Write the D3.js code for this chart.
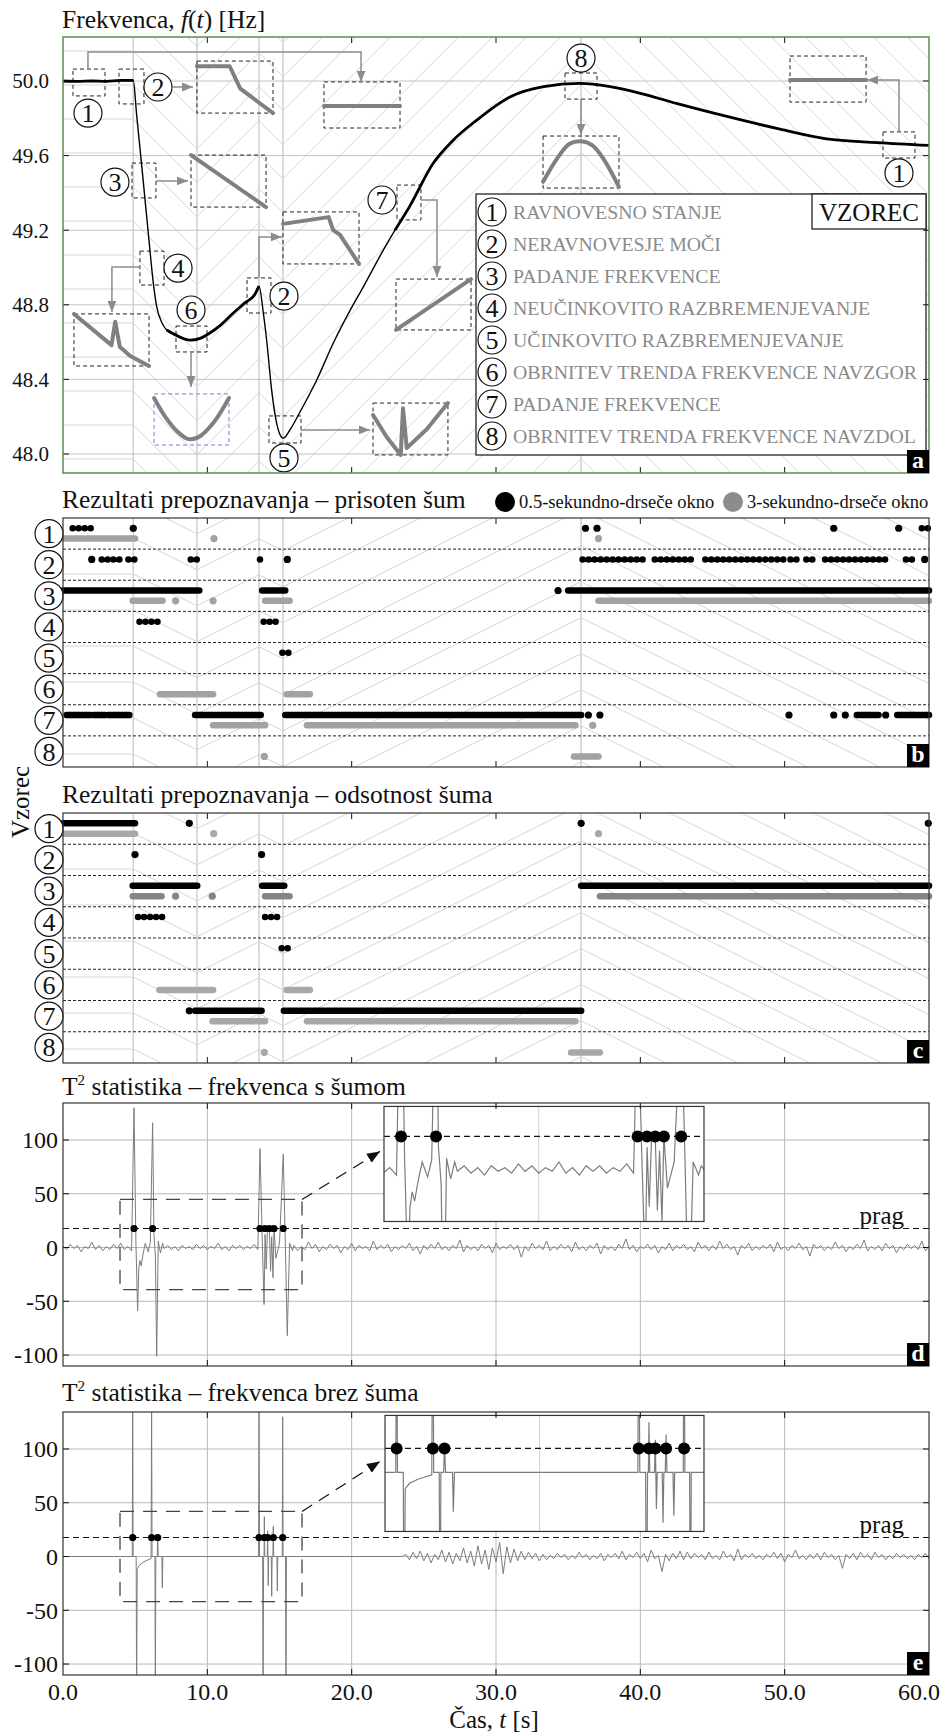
<!DOCTYPE html>
<html>
<head>
<meta charset="utf-8">
<script src="https://cdn.jsdelivr.net/npm/d3@7"></script>
<style>
  body { margin: 0; background: #fff; }
  svg text { font-family: "Liberation Serif", "Times New Roman", serif; }
</style>
</head>
<body>
<div id="chart"></div>
<script>
// ---------- data ----------
var tTicks = [0, 10, 20, 30, 40, 50, 60];
var fTicks = [48.0, 48.4, 48.8, 49.2, 49.6, 50.0];
var t2Ticks = [100, 50, 0, -50, -100];
var eventTimes = [4.87, 9.28, 13.58, 15.24, 35.89];
var threshold = 17.7;

var patternNames = ["RAVNOVESNO STANJE", "NERAVNOVESJE MOČI", "PADANJE FREKVENCE",
  "NEUČINKOVITO RAZBREMENJEVANJE", "UČINKOVITO RAZBREMENJEVANJE",
  "OBRNITEV TRENDA FREKVENCE NAVZGOR", "PADANJE FREKVENCE", "OBRNITEV TRENDA FREKVENCE NAVZDOL"];

// frequency f(t)
var freqT = [0, 1, 2, 3, 4, 4.87, 5.1, 5.5, 5.89, 6.26, 6.49, 6.88, 7.18, 7.76, 8.8, 9.5, 10.2, 10.9, 11.8, 12.6, 13.3, 13.58,
  13.88, 14.11, 14.46, 14.8, 15.15, 15.27, 15.73, 16.42, 17.58, 18.73, 19.89, 20.8, 22.2, 23.0, 24.0, 25.66, 27.0, 28.66,
  31.0, 33.3, 35.8, 37.9, 40.0, 42.5, 46.0, 49.45, 52.9, 56.4, 60];
var freqF = [50.0, 49.998, 50.0, 49.998, 50.003, 50.003, 49.82, 49.51, 49.2, 48.915, 48.79, 48.70, 48.665, 48.64, 48.61, 48.62, 48.65, 48.69, 48.756, 48.81, 48.857, 48.9,
  48.756, 48.61, 48.34, 48.166, 48.09, 48.085, 48.13, 48.225, 48.397, 48.595, 48.77, 48.895, 49.094, 49.2, 49.325, 49.56, 49.68, 49.79,
  49.916, 49.97, 49.987, 49.97, 49.934, 49.88, 49.81, 49.746, 49.69, 49.67, 49.655];
var noisyRanges = [[0, 4.87], [6.9, 13.58], [23.0, 60]];

// detections: [pattern, t start, t end]
var noisy05 = [[1,0.67,1.92],[1,4.87,4.87],[1,36.2,36.2],[1,37.0,37.0],[1,53.4,53.4],[1,57.9,57.9],[1,59.5,59.95],
  [2,1.99,1.99],[2,2.68,3.26],[2,3.49,4.07],[2,4.53,5.33],[2,8.85,9.3],[2,13.65,14.06],[2,15.54,15.54],[2,36.0,40.44],
  [2,41.0,43.85],[2,44.5,50.0],[2,50.4,50.9],[2,51.5,52.0],[2,52.8,57.3],[2,58.4,59.1],[2,59.7,59.7],
  [3,0,9.44],[3,13.8,15.4],[3,34.3,34.3],[3,35.0,60],
  [4,5.3,6.9],[4,13.9,14.9],
  [5,15.2,15.9],
  [7,0.25,1.87],[7,2.1,2.9],[7,3.14,4.6],[7,9.15,13.7],[7,15.4,35.9],[7,36.4,36.4],[7,37.2,37.2],[7,50.3,50.3],
  [7,53.4,53.4],[7,54.2,54.2],[7,55.0,56.5],[7,57.0,57.0],[7,57.8,60]];
var noisy3 = [[1,0,4.99],[1,10.46,10.46],[1,37.1,37.1],
  [3,4.83,6.9],[3,7.8,7.8],[3,10.4,10.4],[3,14.0,15.7],[3,37.1,60],
  [6,6.72,10.4],[6,15.5,17.1],
  [7,10.4,14.0],[7,16.9,35.5],[7,36.7,36.7],
  [8,13.95,13.95],[8,35.4,37.1]];
var clean05 = [[1,0,4.99],[1,8.75,8.75],[1,35.9,35.9],[1,59.95,59.95],
  [2,4.99,4.99],[2,13.76,13.76],
  [3,4.83,9.3],[3,13.8,15.33],[3,35.9,60],
  [4,5.2,6.88],[4,14.0,14.9],
  [5,15.15,15.85],
  [7,8.75,8.75],[7,9.15,13.76],[7,15.3,35.9]];
var clean3 = [[1,0,4.99],[1,10.44,10.44],[1,37.1,37.1],
  [3,4.83,6.83],[3,7.8,7.8],[3,10.34,10.34],[3,14.0,15.7],[3,37.2,60],
  [6,6.68,10.4],[6,15.5,17.1],
  [7,10.36,14.0],[7,16.9,35.5],
  [8,13.95,13.95],[8,35.2,37.2]];
// rows where the short-window hits show as separate dots rather than a solid run
var dottedRowsNoisy = [1, 2, 4, 5];
var dottedRowsClean = [4, 5];

// T2 statistic, noisy frequency: background samples every 0.25 s, plus the event spikes [t, T2]
var t2NoisyBgStep = 0.25;
var t2NoisyBgA = { start: 0, vals: [1,-2,3,-1,2,-4,1,-1,5,-2,2,-3,1,-2,3,-1,4,-2,1,-3] };
var t2NoisyBgB = { start: 7.0, vals: [-1,2,-2,1,-3,2,-1,1,-2,3,-1,2,-2,1,-1,4,-2,1,-3,2,-1,2,-2,1,-1,3,-2] };
var t2NoisyBgC = { start: 16.0, vals: [
  2,-3,1,-2,5,-1,3,-4,1,-2, 3,-1,2,-5,1,-2,4,-3,2,-1, 1,-3,6,-2,2,-1,3,-4,1,-2, 2,-1,4,-3,1,-6,2,-2,3,-1,
  5,-2,1,-3,2,-1,7,-4,2,-2, 1,-3,3,-1,2,-5,4,-2,1,-1, 3,-2,2,-9,1,-3,4,-1,2,-2, 6,-3,1,-2,3,-1,2,-4,5,-2,
  1,-3,2,-1,4,-6,2,-2,1,-3, 3,-1,8,-2,2,-4,1,-1,3,-2, 2,-5,1,-2,4,-3,2,-1,3,-2, 1,-4,5,-1,2,-3,2,-2,6,-1,
  3,-2,1,-7,2,-1,4,-3,1,-2, 2,-1,3,-4,5,-2,1,-3,2,-1, 4,-2,1,-8,3,-1,2,-3,1,-2, 5,-1,2,-4,1,-2,3,-1,7,-3,
  1,-2,2,-3,4,-1,2,-5,1,-2, 3,-1,2,-2,6,-3,1] };
var t2NoisySpikes = [[4.92,130],[5.05,6],[5.17,-59],[5.25,-20],[5.33,-12],[5.42,-17],[5.55,-6],[5.7,4],[5.9,-4],[6.05,5],
  [6.21,116],[6.3,12],[6.4,-8],[6.49,-101],[6.6,6],[6.75,-5],[6.9,4],
  [13.65,92],[13.8,10],[13.93,-53],[14.0,12],[14.08,-20],[14.16,15],[14.3,18],[14.38,-22],[14.46,10],[14.55,-28],[14.62,18],
  [14.75,-10],[15.0,4],[15.26,87],[15.4,5],[15.54,-82],[15.7,4],[15.9,-3]];

// T2 statistic, clean frequency: flat zero with spikes, noise after ~23.7 s
var t2CleanSpikes = [[0,0],[4.8,0],[4.83,140],[4.86,0],[5.07,0],[5.1,-140],[5.14,-12],[5.3,-8],[5.6,-5],[5.9,-3],[6.1,-2],
  [6.14,140],[6.17,0],[6.37,0],[6.4,-140],[6.43,0],[6.53,0],[6.56,20],[6.6,0],[6.85,0],[6.88,-29],[6.92,0],
  [13.55,0],[13.58,140],[13.62,0],[13.83,0],[13.86,-140],[13.9,0],[13.93,0],[13.95,37],[13.98,0],[14.15,0],[14.18,24],
  [14.2,0],[14.22,-27],[14.25,0],[14.43,0],[14.46,-37],[14.49,0],[14.54,0],[14.57,28],[14.6,0],[14.82,0],[14.85,-32],
  [14.88,0],[15.19,0],[15.22,130],[15.25,0],[15.42,0],[15.45,-140],[15.48,0],[23.5,0]];
var t2CleanBg = { start: 23.75, vals: [
  2,-3,4,-2,5,-4,3,-6,2,-3, 6,-5,4,-7,3,-4,8,-6,5,-9, 10,-7,6,-12,8,-5,13,-16,9,-6, 7,-4,5,-3,4,-2,3,-4,2,-3,
  1,-2,3,-1,2,-3,1,-2,4,-1, 2,-3,1,-2,3,-4,2,-1,3,-2, 5,-3,2,-1,4,-2,3,-5,6,-2, 1,-14,2,-4,3,-2,5,-3,4,-2,
  3,-1,2,-3,4,-2,1,-3,5,-1, 2,-4,7,-3,2,-1,3,-2,1,-3, 2,-1,4,-2,3,-5,2,-1,6,-2, 1,-3,2,-2,3,-3,4,-1,2,-3,
  1,-11,2,-2,3,-3,4,-1,2,-3, 4,-1,2,-3,1,-2,3,-1,2,-2, 1,-3,2,-1,3,-2] };

var alarmsNoisy = [4.92, 6.21, 13.65, 14.0, 14.3, 14.62, 15.26];
var alarmsClean = [4.83, 6.14, 6.56, 13.58, 13.95, 14.18, 14.57, 15.22];

// ---------- annotation layout for panel a (in t / f units) ----------
var markBoxes = [[0.69,2.91,50.064,49.92],[3.88,5.61,50.064,49.877],[4.78,6.44,49.56,49.373],[5.33,7.0,49.088,48.906],
  [7.83,9.98,48.686,48.547],[12.75,14.41,48.944,48.756],[14.27,16.49,48.204,48.059],[23.14,24.8,49.442,49.255],
  [34.78,37.0,50.043,49.903],[56.81,59.03,49.727,49.587]];
var markLabels = [[1,1.73,49.828],[2,6.58,49.968],[3,3.6,49.458],[4,7.97,48.997],[6,8.87,48.772],[2,15.31,48.847],
  [5,15.31,47.979],[7,22.1,49.362],[8,35.89,50.123],[1,57.92,49.507]];
var insets = [
  {box: [18.08,23.35,49.995,49.748], shape: [[0,0.52],[1,0.52]]},
  {box: [9.28,14.55,50.107,49.828], shape: [[0,0.1],[0.43,0.1],[0.57,0.53],[1,1]]},
  {box: [8.87,14.07,49.603,49.324], shape: [[0,0],[1,1]]},
  {box: [15.24,20.51,49.298,49.019], shape: [[0,0.23],[0.6,0.1],[0.66,0.35],[0.75,0.44],[1,1]]},
  {box: [0.76,5.96,48.751,48.472], shape: [[0,0],[0.5,0.6],[0.55,0.15],[0.61,0.63],[0.75,0.81],[1,1]]},
  {box: [6.31,11.5,48.322,48.048], shape: [[0,0.08],[0.15,0.45],[0.3,0.72],[0.45,0.88],[0.6,0.84],[0.8,0.55],[1,0.08]], smooth: true, purple: true},
  {box: [21.48,26.67,48.273,47.995], shape: [[0,0.23],[0.18,0.65],[0.37,1],[0.4,0.1],[0.45,0.87],[0.72,0.5],[1,0]]},
  {box: [23.07,28.27,48.938,48.665], shape: [[0,1],[1,0]]},
  {box: [33.26,38.52,49.705,49.426], shape: [[0,0.88],[0.2,0.4],[0.35,0.15],[0.5,0.1],[0.65,0.18],[0.8,0.45],[1,0.98]], smooth: true},
  {box: [50.37,55.64,50.134,49.887], shape: [[0,0.52],[1,0.52]]}];
var connectors = [
  [[1.73,50.064],[1.73,50.155],[20.65,50.155],[20.65,49.995]],
  [[7.62,49.968],[9.01,49.968]],
  [[6.44,49.464],[8.66,49.464]],
  [[5.33,49.003],[3.39,49.003],[3.39,48.761]],
  [[8.87,48.547],[8.87,48.359]],
  [[13.58,48.944],[13.58,49.164],[15.17,49.164]],
  [[16.49,48.129],[21.27,48.129]],
  [[24.8,49.362],[25.91,49.362],[25.91,48.949]],
  [[35.89,49.903],[35.89,49.71]],
  [[57.92,49.727],[57.92,50.005],[55.71,50.005]]];

// sampled background -> [t, value] pairs
function samples(bg) {
  return bg.vals.map(function (v, i) { return [bg.start + i * t2NoisyBgStep, v]; });
}
var t2Noisy = d3.sort(samples(t2NoisyBgA).concat(samples(t2NoisyBgB), samples(t2NoisyBgC), t2NoisySpikes, [[60, 0]]),
  function (d) { return d[0]; });
var t2Clean = t2CleanSpikes.concat(samples(t2CleanBg), [[60, 0]]);

// ---------- setup ----------
var width = 944, height = 1735;
var titleSize = 25.5;
var svg = d3.select("#chart").append("svg")
  .attr("width", width).attr("height", height);
svg.append("rect").attr("width", width).attr("height", height).attr("fill", "#fff");
var defs = svg.append("defs");

var x = d3.scaleLinear().domain([0, 60]).range([63, 929]);
var yA = d3.scaleLinear().domain([47.898, 50.236]).range([473, 37]);
var rowB = d3.scaleLinear().domain([0, 8]).range([518, 767]);
var rowC = d3.scaleLinear().domain([0, 8]).range([813, 1063]);
var yD = d3.scaleLinear().domain([-110.2, 134.4]).range([1366, 1103]);
var yE = d3.scaleLinear().domain([-110.2, 134.4]).range([1675, 1412]);
var X0 = x(0), X1 = x(60);

function arrowMarker(id, color, size) {
  defs.append("marker").attr("id", id)
    .attr("viewBox", "0 0 10 10").attr("refX", 10).attr("refY", 5)
    .attr("markerWidth", size).attr("markerHeight", size)
    .attr("markerUnits", "userSpaceOnUse").attr("orient", "auto")
    .append("path").attr("d", "M0,1L10,5L0,9Z").attr("fill", color);
}
arrowMarker("arrGray", "#8c8c8c", 11);
arrowMarker("arrBlack", "#111", 13);

function clipRect(id, x0, y0, x1, y1) {
  defs.append("clipPath").attr("id", id).append("rect")
    .attr("x", x0).attr("y", y0).attr("width", x1 - x0).attr("height", y1 - y0);
  return "url(#" + id + ")";
}

// chevron hatch that changes direction at each event time
function hatch(g, top, bottom, s, step) {
  var bx = [0].concat(eventTimes).concat([60]).map(x);
  var slopes = [0, s, -s, s, -s, s];
  var lines = [];
  for (var y0 = top - 700; y0 < bottom + 700; y0 += step) {
    var pts = [[bx[0], y0]], yy = y0;
    for (var i = 1; i < bx.length; i++) {
      yy += slopes[i - 1] * (bx[i] - bx[i - 1]);
      pts.push([bx[i], yy]);
    }
    lines.push(pts);
  }
  g.selectAll("path.hatch").data(lines).join("path").attr("class", "hatch")
    .attr("d", d3.line()).attr("fill", "none").attr("stroke", "#d6d6d6").attr("stroke-width", 1);
}

function eventLines(g, top, bottom) {
  g.selectAll("line.ev").data(eventTimes).join("line").attr("class", "ev")
    .attr("x1", x).attr("x2", x).attr("y1", top).attr("y2", bottom)
    .attr("stroke", "#d2d2d2").attr("stroke-width", 1.6);
}

function tickMarks(g, top, bottom, yScale, yVals) {
  var inner = tTicks.slice(1, -1);
  g.selectAll("line.tt").data(inner).join("line").attr("class", "tt")
    .attr("x1", x).attr("x2", x).attr("y1", top).attr("y2", top + 6).attr("stroke", "#111");
  g.selectAll("line.tb").data(inner).join("line").attr("class", "tb")
    .attr("x1", x).attr("x2", x).attr("y1", bottom - 6).attr("y2", bottom).attr("stroke", "#111");
  if (yScale) {
    g.selectAll("line.tl").data(yVals).join("line").attr("class", "tl")
      .attr("x1", X0).attr("x2", X0 + 6).attr("y1", yScale).attr("y2", yScale).attr("stroke", "#111");
    g.selectAll("line.tr").data(yVals).join("line").attr("class", "tr")
      .attr("x1", X1 - 6).attr("x2", X1).attr("y1", yScale).attr("y2", yScale).attr("stroke", "#111");
  }
}

function frame(g, top, bottom, color, w) {
  g.append("rect").attr("x", X0).attr("y", top).attr("width", X1 - X0).attr("height", bottom - top)
    .attr("fill", "none").attr("stroke", color).attr("stroke-width", w);
}

function cornerLabel(g, bottom, letter) {
  g.append("rect").attr("x", X1 - 22).attr("y", bottom - 23).attr("width", 22).attr("height", 23).attr("fill", "#000");
  g.append("text").attr("x", X1 - 11).attr("y", bottom - 5).attr("text-anchor", "middle")
    .attr("fill", "#fff").attr("font-weight", "bold").attr("font-size", 24).text(letter);
}

function circledNum(g, cx, cy, n, r, fs) {
  g.append("circle").attr("cx", cx).attr("cy", cy).attr("r", r)
    .attr("fill", "#fff").attr("stroke", "#111").attr("stroke-width", 1.2);
  g.append("text").attr("x", cx).attr("y", cy).attr("dy", "0.35em").attr("text-anchor", "middle")
    .attr("font-size", fs).attr("fill", "#111").text(n);
}

// ---------- panel a ----------
var gA = svg.append("g");
var aTop = yA.range()[1], aBot = yA.range()[0];
var gAh = gA.append("g").attr("clip-path", clipRect("clipA", X0, aTop, X1, aBot));
hatch(gAh, aTop, aBot, 1.0, 34);
eventLines(gAh, aTop, aBot);
gAh.selectAll("line.gy").data(fTicks).join("line").attr("class", "gy")
  .attr("x1", X0).attr("x2", X1).attr("y1", yA).attr("y2", yA)
  .attr("stroke", "#c4c4c4").attr("stroke-width", 1);

gA.append("text").attr("x", X0 - 1).attr("y", 28).attr("font-size", titleSize).attr("fill", "#111")
  .call(function (t) {
    t.append("tspan").text("Frekvenca, ");
    t.append("tspan").attr("font-style", "italic").text("f");
    t.append("tspan").text("(");
    t.append("tspan").attr("font-style", "italic").text("t");
    t.append("tspan").text(") [Hz]");
  });
gA.selectAll("text.yl").data(fTicks).join("text").attr("class", "yl")
  .attr("x", 49).attr("y", yA).attr("dy", "0.35em").attr("text-anchor", "end")
  .attr("font-size", 21).attr("fill", "#111").text(d3.format(".1f"));

// annotations
var gAn = gA.append("g");
gAn.selectAll("rect.mb").data(markBoxes).join("rect").attr("class", "mb")
  .attr("x", function (d) { return x(d[0]); }).attr("y", function (d) { return yA(d[2]); })
  .attr("width", function (d) { return x(d[1]) - x(d[0]); })
  .attr("height", function (d) { return yA(d[3]) - yA(d[2]); })
  .attr("fill", "none").attr("stroke", "#222").attr("stroke-width", 1).attr("stroke-dasharray", "4,3");

insets.forEach(function (ins) {
  var b = ins.box;
  var x0 = x(b[0]), x1 = x(b[1]), y0 = yA(b[2]), y1 = yA(b[3]);
  gAn.append("rect").attr("x", x0).attr("y", y0).attr("width", x1 - x0).attr("height", y1 - y0)
    .attr("fill", "none").attr("stroke", ins.purple ? "#9a6bd6" : "#222")
    .attr("stroke-width", 1).attr("stroke-dasharray", "4,3");
  var line = d3.line()
    .x(function (p) { return x0 + p[0] * (x1 - x0); })
    .y(function (p) { return y0 + p[1] * (y1 - y0); });
  if (ins.smooth) line.curve(d3.curveCatmullRom);
  gAn.append("path").attr("d", line(ins.shape)).attr("fill", "none")
    .attr("stroke", "#808080").attr("stroke-width", 4).attr("stroke-linecap", "round").attr("stroke-linejoin", "round");
});

var conLine = d3.line().x(function (p) { return x(p[0]); }).y(function (p) { return yA(p[1]); });
gAn.selectAll("path.con").data(connectors).join("path").attr("class", "con")
  .attr("d", conLine).attr("fill", "none").attr("stroke", "#8c8c8c").attr("stroke-width", 1.5)
  .attr("marker-end", "url(#arrGray)");

// frequency curve
var fData = freqT.map(function (t, i) { return [t, freqF[i]]; });
var fLine = d3.line().x(function (d) { return x(d[0]); }).y(function (d) { return yA(d[1]); }).curve(d3.curveMonotoneX);
var gCurve = gA.append("g").attr("clip-path", "url(#clipA)");
gCurve.append("path").attr("d", fLine(fData)).attr("fill", "none").attr("stroke", "#000").attr("stroke-width", 1.4);
noisyRanges.forEach(function (r) {
  var part = fData.filter(function (d) { return d[0] >= r[0] && d[0] <= r[1]; });
  gCurve.append("path").attr("d", fLine(part)).attr("fill", "none").attr("stroke", "#000").attr("stroke-width", 2.8);
});

markLabels.forEach(function (m) { circledNum(gAn, x(m[1]), yA(m[2]), m[0], 14, 26); });

// legend of patterns
var lg = gA.append("g");
var lgX = 476, lgY = 194, lgW = 450, lgH = 261;
lg.append("rect").attr("x", lgX).attr("y", lgY).attr("width", lgW).attr("height", lgH)
  .attr("fill", "#fff").attr("stroke", "#111").attr("stroke-width", 1.2);
lg.append("rect").attr("x", lgX + lgW - 114).attr("y", lgY).attr("width", 114).attr("height", 35)
  .attr("fill", "#fff").attr("stroke", "#111").attr("stroke-width", 1.2);
lg.append("text").attr("x", lgX + lgW - 57).attr("y", lgY + 18).attr("dy", "0.35em").attr("text-anchor", "middle")
  .attr("font-size", 25).attr("fill", "#111").text("VZOREC");
patternNames.forEach(function (name, i) {
  var cy = lgY + 18 + i * 32;
  circledNum(lg, lgX + 16, cy, i + 1, 14, 26);
  lg.append("text").attr("x", lgX + 37).attr("y", cy).attr("dy", "0.35em")
    .attr("font-size", 19.8).attr("fill", "#8a8a8a").text(name);
});

tickMarks(gA, aTop, aBot, yA, fTicks);
frame(gA, aTop, aBot, "#5e8a55", 1.5);
cornerLabel(gA, aBot, "a");

// ---------- panels b and c ----------
function detPanel(rows, blackData, grayData, grayColor, dottedRows, title, titleY, letter, withLegend) {
  var g = svg.append("g");
  var top = rows.range()[0], bot = rows.range()[1], h = rows(1) - rows(0);
  var gh = g.append("g").attr("clip-path", clipRect("clip" + letter, X0, top, X1, bot));
  hatch(gh, top, bot, 0.5, 36);
  eventLines(gh, top, bot);
  g.selectAll("line.sep").data(d3.range(1, 8)).join("line").attr("class", "sep")
    .attr("x1", X0).attr("x2", X1).attr("y1", rows).attr("y2", rows)
    .attr("stroke", "#222").attr("stroke-width", 1).attr("stroke-dasharray", "3,2");

  function drawSet(data, frac, color, dotted) {
    var yy = function (d) { return rows(d[0] - 1) + frac * h; };
    g.selectAll(null).data(data.filter(function (d) { return d[2] > d[1]; })).join("line")
      .attr("x1", function (d) { return x(d[1]); }).attr("x2", function (d) { return x(d[2]); })
      .attr("y1", yy).attr("y2", yy)
      .attr("stroke", color).attr("stroke-width", 6.5).attr("stroke-linecap", "round")
      .attr("stroke-dasharray", function (d) { return dotted.indexOf(d[0]) >= 0 ? "0,6" : null; });
    g.selectAll(null).data(data.filter(function (d) { return d[2] <= d[1]; })).join("circle")
      .attr("cx", function (d) { return x(d[1]); }).attr("cy", yy).attr("r", 3.6).attr("fill", color);
  }
  drawSet(grayData, 0.66, grayColor, []);
  drawSet(blackData, 0.33, function () { return "#000"; }, dottedRows);

  for (var i = 0; i < 8; i++) circledNum(g, 49, rows(i) + h / 2, i + 1, 14, 26);
  g.append("text").attr("x", X0 - 1).attr("y", titleY).attr("font-size", titleSize).attr("fill", "#111").text(title);
  if (withLegend) {
    g.append("circle").attr("cx", 505).attr("cy", titleY - 6).attr("r", 10).attr("fill", "#000");
    g.append("text").attr("x", 519).attr("y", titleY - 6).attr("dy", "0.35em").attr("font-size", 18.5).attr("fill", "#111")
      .text("0.5-sekundno-drseče okno");
    g.append("circle").attr("cx", 733).attr("cy", titleY - 6).attr("r", 10).attr("fill", "#8c8c8c");
    g.append("text").attr("x", 747).attr("y", titleY - 6).attr("dy", "0.35em").attr("font-size", 18.5).attr("fill", "#111")
      .text("3-sekundno-drseče okno");
  }
  tickMarks(g, top, bot, null, null);
  frame(g, top, bot, "#333", 1.2);
  cornerLabel(g, bot, letter);
}
detPanel(rowB, noisy05, noisy3, function () { return "#a2a2a2"; }, dottedRowsNoisy,
  "Rezultati prepoznavanja – prisoten šum", 508, "b", true);
detPanel(rowC, clean05, clean3, function (d) { return d[0] === 3 ? "#858585" : "#a8a8a8"; }, dottedRowsClean,
  "Rezultati prepoznavanja – odsotnost šuma", 803, "c", false);

svg.append("text").attr("transform", "translate(29,802) rotate(-90)").attr("text-anchor", "middle")
  .attr("font-size", 25).attr("fill", "#111").text("Vzorec");

// ---------- panels d and e ----------
function t2Panel(o) {
  var g = svg.append("g");
  var y = o.y, top = y.range()[1], bot = y.range()[0];
  g.selectAll("line.gx").data(tTicks.slice(1, -1)).join("line").attr("class", "gx")
    .attr("x1", x).attr("x2", x).attr("y1", top).attr("y2", bot).attr("stroke", "#b8b8b8");
  g.selectAll("line.gy").data(t2Ticks).join("line").attr("class", "gy")
    .attr("x1", X0).attr("x2", X1).attr("y1", y).attr("y2", y).attr("stroke", "#b8b8b8");

  var sig = d3.line().x(function (d) { return x(d[0]); }).y(function (d) { return y(d[1]); });
  g.append("path").attr("clip-path", clipRect("clip" + o.letter, X0, top, X1, bot))
    .attr("d", sig(o.data)).attr("fill", "none").attr("stroke", "#7c7c7c").attr("stroke-width", 1);

  g.append("line").attr("x1", X0).attr("x2", X1).attr("y1", y(threshold)).attr("y2", y(threshold))
    .attr("stroke", "#111").attr("stroke-width", 1.2).attr("stroke-dasharray", "6,4");
  g.selectAll("circle.al").data(o.alarms).join("circle").attr("class", "al")
    .attr("cx", x).attr("cy", y(threshold)).attr("r", 3.6).attr("fill", "#000");
  g.append("text").attr("x", 904).attr("y", y(threshold) - 4).attr("text-anchor", "end")
    .attr("font-size", 25).attr("fill", "#111").text("prag");

  // zoom window and arrow
  var zb = o.zoomBox;
  g.append("rect").attr("x", x(zb[0])).attr("y", y(zb[2])).attr("width", x(zb[1]) - x(zb[0]))
    .attr("height", y(zb[3]) - y(zb[2])).attr("fill", "none").attr("stroke", "#444")
    .attr("stroke-width", 1.3).attr("stroke-dasharray", "14,9");
  g.append("line").attr("x1", x(zb[1])).attr("y1", y(zb[2])).attr("x2", x(o.arrowTo[0])).attr("y2", y(o.arrowTo[1]))
    .attr("stroke", "#111").attr("stroke-width", 1.2).attr("stroke-dasharray", "12,8").attr("marker-end", "url(#arrBlack)");

  // inset
  var ib = o.insetBox;
  var ix0 = x(ib[0]), ix1 = x(ib[1]), iy0 = y(ib[2]), iy1 = y(ib[3]);
  var xi = d3.scaleLinear().domain(o.insetT).range([ix0, ix1]);
  var yi = d3.scaleLinear().domain(o.insetV).range([iy1, iy0]);
  var gi = g.append("g");
  gi.append("rect").attr("x", ix0).attr("y", iy0).attr("width", ix1 - ix0).attr("height", iy1 - iy0).attr("fill", "#fff");
  var gic = gi.append("g").attr("clip-path", clipRect("clipIn" + o.letter, ix0, iy0, ix1, iy1));
  gic.append("line").attr("x1", xi(10)).attr("x2", xi(10)).attr("y1", iy0).attr("y2", iy1).attr("stroke", "#d0d0d0");
  var sigI = d3.line().x(function (d) { return xi(d[0]); }).y(function (d) { return yi(d[1]); });
  gic.append("path").attr("d", sigI(o.data)).attr("fill", "none").attr("stroke", "#7c7c7c").attr("stroke-width", 1.2);
  gic.append("line").attr("x1", ix0).attr("x2", ix1).attr("y1", yi(threshold)).attr("y2", yi(threshold))
    .attr("stroke", "#111").attr("stroke-width", 1.2).attr("stroke-dasharray", "6,4");
  gic.selectAll("circle").data(o.alarms).join("circle")
    .attr("cx", xi).attr("cy", yi(threshold)).attr("r", 6).attr("fill", "#000");
  gi.append("rect").attr("x", ix0).attr("y", iy0).attr("width", ix1 - ix0).attr("height", iy1 - iy0)
    .attr("fill", "none").attr("stroke", "#333").attr("stroke-width", 1.2);

  g.selectAll("text.yl").data(t2Ticks).join("text").attr("class", "yl")
    .attr("x", 58).attr("y", y).attr("dy", "0.35em").attr("text-anchor", "end")
    .attr("font-size", 24).attr("fill", "#111").text(function (d) { return String(d); });

  var tt = g.append("text").attr("x", X0 - 1).attr("y", o.titleY).attr("font-size", titleSize).attr("fill", "#111");
  tt.append("tspan").text("T");
  tt.append("tspan").attr("font-size", 15).attr("dy", -10).text("2");
  tt.append("tspan").attr("dy", 10).text(" statistika – " + o.title);

  tickMarks(g, top, bot, y, t2Ticks);
  frame(g, top, bot, "#333", 1.2);
  cornerLabel(g, bot, o.letter);
  return g;
}

t2Panel({ y: yD, data: t2Noisy, alarms: alarmsNoisy, letter: "d", titleY: 1095, title: "frekvenca s šumom",
  zoomBox: [3.95, 16.56, 44.7, -39.1], arrowTo: [21.96, 89.4],
  insetBox: [22.24, 44.41, 131.2, 24.2], insetT: [4.29, 16.1], insetV: [-27.9, 33.8] });
var gE = t2Panel({ y: yE, data: t2Clean, alarms: alarmsClean, letter: "e", titleY: 1401, title: "frekvenca brez šuma",
  zoomBox: [3.95, 16.56, 41.9, -41.9], arrowTo: [21.96, 88.4],
  insetBox: [22.31, 44.41, 131.2, 23.3], insetT: [4.41, 15.94], insetV: [-43.5, 42.0] });

// x axis labels at the bottom (last one kept inside the page)
gE.selectAll("text.xl").data(tTicks).join("text").attr("class", "xl")
  .attr("x", function (d) { return d === 60 ? width - 4 : x(d); }).attr("y", 1700)
  .attr("text-anchor", function (d) { return d === 60 ? "end" : "middle"; })
  .attr("font-size", 24).attr("fill", "#111").text(d3.format(".1f"));
gE.append("text").attr("x", 494).attr("y", 1728).attr("text-anchor", "middle").attr("font-size", 25).attr("fill", "#111")
  .call(function (t) {
    t.append("tspan").text("Čas, ");
    t.append("tspan").attr("font-style", "italic").text("t");
    t.append("tspan").text(" [s]");
  });
</script>
</body>
</html>
